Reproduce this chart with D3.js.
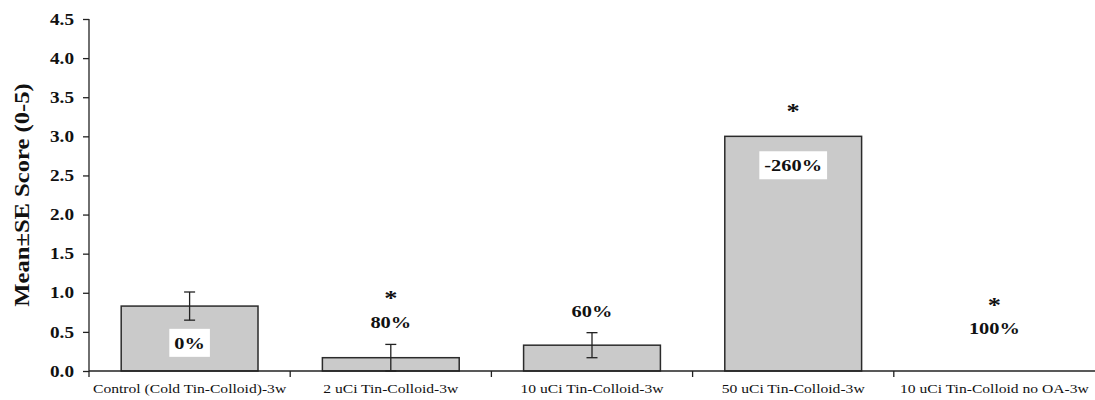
<!DOCTYPE html>
<html>
<head>
<meta charset="utf-8">
<script src="https://cdn.jsdelivr.net/npm/d3@7"></script>
<style>
body{margin:0;background:#fff;}
svg{display:block;}
text{font-family:'Liberation Serif','Times New Roman',serif;fill:#111;}
</style>
</head>
<body>
<div id="chart"></div>
<script>
var categories = ["Control (Cold Tin-Colloid)-3w","2 uCi Tin-Colloid-3w","10 uCi Tin-Colloid-3w","50 uCi Tin-Colloid-3w","10 uCi Tin-Colloid no OA-3w"];
var means = [0.83, 0.17, 0.33, 3.0, 0];
var ses = [0.18, 0.17, 0.16, 0, 0];
var pctLabels = ["0%","80%","60%","-260%","100%"];
var boxed = [true,false,false,true,false];
var labelAt = [0.36, 0.62, 0.77, 2.63, 0.55];   // annotation height, in score units
var starAt = [null, 0.98, null, 3.38, 0.9];
var yTicks = [0,0.5,1,1.5,2,2.5,3,3.5,4,4.5];

var W = 1095, H = 400;
var margin = {left: 89, top: 19, right: 0, bottom: 29};
var w = W - margin.left - margin.right, h = H - margin.top - margin.bottom;
var sx = 1.2; // text in the picture is drawn wide

var svg = d3.select("#chart").append("svg").attr("width",W).attr("height",H);
var g = svg.append("g").attr("transform","translate("+margin.left+","+margin.top+")");

var x = d3.scaleBand().domain(categories).range([0,w]).paddingInner(0.32).paddingOuter(0.16);
var xb = d3.scaleBand().domain(categories).range([0,w]);
var y = d3.scaleLinear().domain([0,4.5]).range([h,0]);

// wide text helper
function wideText(parent, px, py, str, size, bold, dy){
  var t = parent.append("text")
    .attr("transform","translate("+px+","+py+") scale("+sx+",1)")
    .attr("text-anchor","middle").attr("dy",dy)
    .style("font-size",size+"px").style("font-weight",bold?"bold":"normal")
    .text(str);
  return t;
}

// bars
g.selectAll("rect.bar").data(categories).enter().append("rect")
  .attr("class","bar")
  .attr("x",function(d){return x(d);})
  .attr("y",function(d,i){return y(means[i]);})
  .attr("width",x.bandwidth())
  .attr("height",function(d,i){return h-y(means[i]);})
  .attr("fill","#cacaca")
  .attr("stroke",function(d,i){return means[i]>0?"#2b2b2b":"none";})
  .attr("stroke-width",1.5);

// error bars
var eb = g.selectAll("g.err").data(categories.filter(function(d,i){return ses[i]>0;})).enter().append("g").attr("class","err")
  .attr("stroke","#222").attr("stroke-width",1.3);
eb.each(function(d){
  var i = categories.indexOf(d);
  var cx = x(d)+x.bandwidth()/2;
  var s = d3.select(this);
  var lo = Math.max(0, means[i]-ses[i]), hi = means[i]+ses[i];
  s.append("line").attr("x1",cx).attr("x2",cx).attr("y1",y(lo)).attr("y2",y(hi));
  s.append("line").attr("x1",cx-5.5).attr("x2",cx+5.5).attr("y1",y(hi)).attr("y2",y(hi));
  s.append("line").attr("x1",cx-5.5).attr("x2",cx+5.5).attr("y1",y(lo)).attr("y2",y(lo));
});

// percentage labels and stars
categories.forEach(function(d,i){
  var cx = x(d)+x.bandwidth()/2;
  var t = wideText(g, cx, y(labelAt[i]), pctLabels[i], 17, true, "0.35em");
  if(boxed[i]){
    var bb = t.node().getBBox();
    var bw = bb.width*sx;
    g.insert("rect", function(){return t.node();})
      .attr("x",cx-bw/2-5).attr("y",y(labelAt[i])-14).attr("width",bw+10).attr("height",28)
      .attr("fill","#fff");
  }
  if(starAt[i]!==null){
    wideText(g, cx, y(starAt[i]), "*", 22, true, "0.5em");
  }
});

// axes
var yAxis = d3.axisLeft(y).tickValues(yTicks).tickSize(6).tickFormat(d3.format(".1f"));
var ga = g.append("g").call(yAxis);
ga.select(".domain").attr("stroke","#222").attr("stroke-width",1.3).attr("d","M0,0V"+h);
ga.selectAll(".tick line").attr("stroke","#222").attr("stroke-width",1.3);
ga.selectAll(".tick text").attr("x",-15/sx).attr("transform","scale("+sx+",1)")
  .style("font-family",null)
  .style("font-weight","bold").style("font-size","16px").attr("fill","#111");

var gx = g.append("g").attr("transform","translate(0,"+h+")");
gx.append("line").attr("x1",0).attr("x2",w).attr("stroke","#222").attr("stroke-width",1.3);
gx.selectAll("line.tk").data(categories).enter().append("line").attr("class","tk")
  .attr("x1",function(d){return xb(d);}).attr("x2",function(d){return xb(d);})
  .attr("y1",0).attr("y2",6).attr("stroke","#222").attr("stroke-width",1.3);
categories.forEach(function(d){
  wideText(gx, xb(d)+xb.bandwidth()/2, 22, d, 13, false, "0");
});

svg.append("text").attr("transform","translate(22,"+(margin.top+h/2)+") rotate(-90) scale("+sx+",1)")
  .attr("text-anchor","middle").attr("dy","0.35em")
  .style("font-weight","bold").style("font-size","20.5px")
  .text("Mean\u00b1SE Score (0-5)");
</script>
</body>
</html>
